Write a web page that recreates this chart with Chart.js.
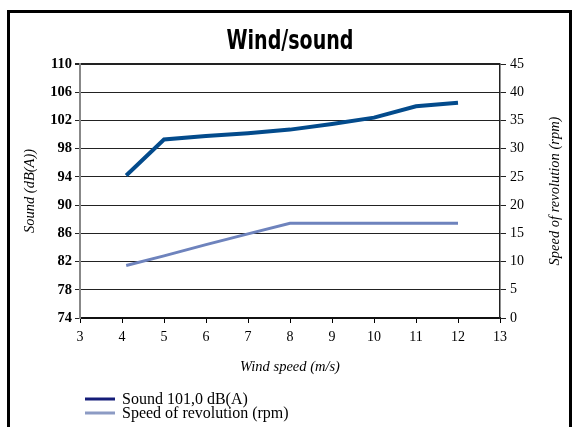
<!DOCTYPE html>
<html>
<head>
<meta charset="utf-8">
<script src="https://cdn.jsdelivr.net/npm/chart.js@4.4.1/dist/chart.umd.min.js"></script>
<style>
  body { margin: 0; background: #fff; }
  #wrap { position: relative; width: 573px; height: 427px; overflow: hidden; }
  #frame { position: absolute; left: 7px; top: 10px; width: 565px; height: 460px; border: 3px solid #000; box-sizing: border-box; pointer-events: none; }
  canvas { position: absolute; left: 0; top: 0; }
</style>
</head>
<body>
<div id="wrap">
  <canvas id="chart" width="573" height="427"></canvas>
  <div id="frame"></div>
</div>
<script>
// --- data ---
const windSpeed = [4.1, 5, 6, 7, 8, 9, 10, 11, 12];
const soundDb = [94.2, 99.3, 99.8, 100.2, 100.7, 101.5, 102.4, 104.0, 104.5];
const rotationRpm = [9.3, 11.0, 13.0, 14.9, 16.8, 16.8, 16.8, 16.8, 16.8];
const seriesLabels = ["Sound 101,0 dB(A)", "Speed of revolution (rpm)"];
const chartTitle = "Wind/sound";

const serif = "'Liberation Serif', 'Times New Roman', serif";
const canvas = document.getElementById("chart");

// title (narrow bold), right axis title and legend are drawn by hand
const extras = {
  id: "extras",
  afterDraw(chart) {
    const ctx = chart.ctx;
    const area = chart.chartArea;

    // title squeezed to a narrow face
    ctx.save();
    ctx.fillStyle = "#000";
    ctx.font = "bold 26px 'DejaVu Sans Condensed', 'Liberation Sans', sans-serif";
    ctx.textAlign = "center";
    ctx.textBaseline = "middle";
    const w = ctx.measureText(chartTitle).width;
    ctx.translate(290, 42);
    ctx.scale(127 / w, 1);
    ctx.fillText(chartTitle, 0, 0);
    ctx.restore();

    ctx.save();
    ctx.fillStyle = "#000";
    ctx.font = "italic 14.5px " + serif;
    ctx.textAlign = "center";
    ctx.textBaseline = "middle";
    ctx.translate(555, (area.top + area.bottom) / 2);
    ctx.rotate(-Math.PI / 2);
    ctx.fillText("Speed of revolution (rpm)", 0, 0);
    ctx.restore();

    // legend
    const swatch = ["#141c78", "#8c9bc4"];
    const rows = [399, 413];
    ctx.save();
    chart.data.datasets.forEach((ds, i) => {
      ctx.strokeStyle = swatch[i];
      ctx.lineWidth = 3;
      ctx.beginPath();
      ctx.moveTo(85, rows[i]);
      ctx.lineTo(115, rows[i]);
      ctx.stroke();
      ctx.fillStyle = "#000";
      ctx.font = "16px " + serif;
      ctx.textAlign = "left";
      ctx.textBaseline = "middle";
      ctx.fillText(ds.label, 122, rows[i] + 1);
    });
    ctx.restore();
  }
};

const toPoints = (ys) => windSpeed.map((x, i) => ({ x: x, y: ys[i] }));

new Chart(canvas, {
  type: "line",
  data: {
    datasets: [
      {
        label: seriesLabels[0],
        data: toPoints(soundDb),
        yAxisID: "y",
        borderColor: "#034b8c",
        borderWidth: 4,
        pointRadius: 0,
        tension: 0
      },
      {
        label: seriesLabels[1],
        data: toPoints(rotationRpm),
        yAxisID: "y1",
        borderColor: "#6e83bd",
        borderWidth: 3,
        pointRadius: 0,
        tension: 0
      }
    ]
  },
  options: {
    responsive: false,
    animation: false,
    layout: { padding: { left: 0, right: 0, top: 64, bottom: 49 } },
    plugins: {
      legend: { display: false },
      tooltip: { enabled: false },
      title: { display: false }
    },
    scales: {
      x: {
        type: "linear",
        min: 3,
        max: 13,
        ticks: { stepSize: 1, color: "#000", padding: 6, font: { family: serif, size: 14 } },
        grid: { drawOnChartArea: false, tickLength: 5, color: "#000" },
        border: { color: "#111", width: 2 },
        title: { display: true, text: "Wind speed (m/s)", color: "#000", font: { family: serif, size: 14.5, style: "italic" }, padding: { top: 0, bottom: 2 } },
        afterFit: (s) => { s.height = 60; s.paddingLeft = 0; s.paddingRight = 0; }
      },
      y: {
        position: "left",
        min: 74,
        max: 110,
        ticks: { stepSize: 4, color: "#000", padding: 3, font: { family: serif, size: 14.5, weight: "bold" } },
        grid: {
          color: "#222",
          tickLength: 5,
          lineWidth: (c) => (c.tick && c.tick.value === 110 ? 2 : 1)
        },
        border: { color: "#888", width: 2 },
        title: { display: true, text: "Sound (dB(A))", color: "#000", font: { family: serif, size: 14.5, style: "italic" }, padding: { top: 21, bottom: 0 } },
        afterFit: (s) => { s.width = 80; s.paddingTop = 0; s.paddingBottom = 0; }
      },
      y1: {
        position: "right",
        min: 0,
        max: 45,
        ticks: { stepSize: 5, color: "#000", padding: 4, font: { family: serif, size: 14 } },
        grid: { drawOnChartArea: false, tickLength: 6, color: "#222" },
        border: { color: "#222", width: 1.5 },
        afterFit: (s) => { s.width = 73; s.paddingTop = 0; s.paddingBottom = 0; }
      }
    }
  },
  plugins: [extras]
});
</script>
</body>
</html>
